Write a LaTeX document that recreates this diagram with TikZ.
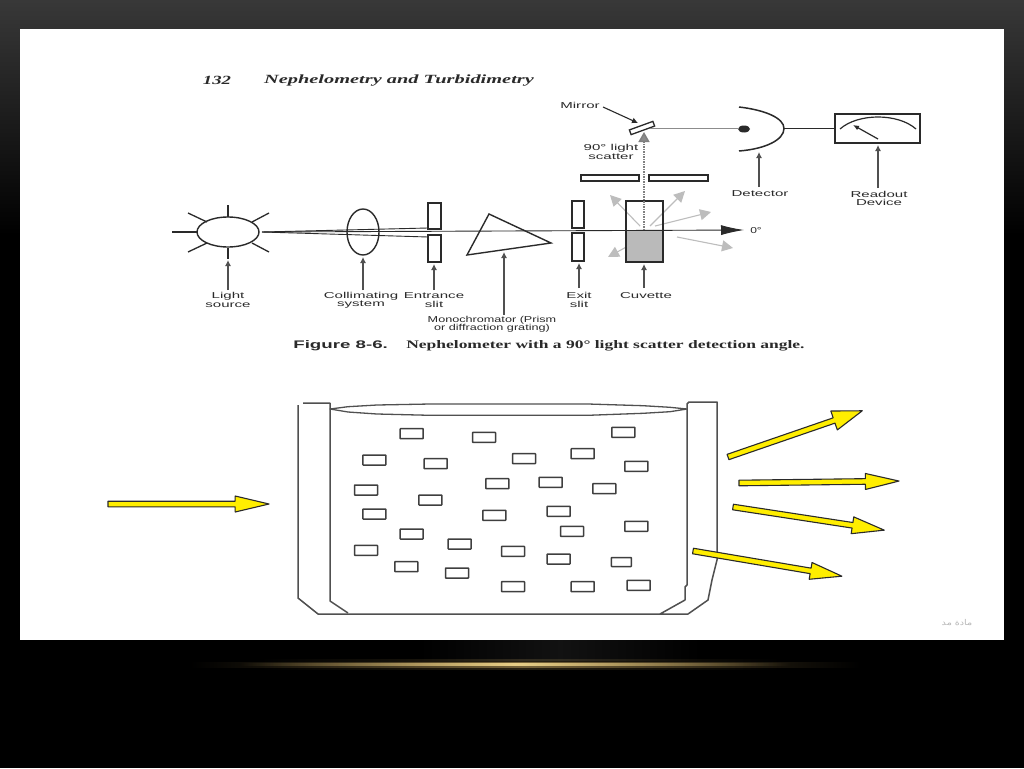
\documentclass[tikz,border=0pt]{standalone}
\usepackage{fontspec}
\setmainfont{Liberation Sans}
\newfontfamily\serifbook{Liberation Serif}
\newfontfamily\arabicfont[Script=Arabic]{DejaVu Sans}
\TeXXeTstate=1
\usetikzlibrary{arrows.meta,calc}
\definecolor{ink}{HTML}{2A2A2A}
\definecolor{soft}{HTML}{505050}
\definecolor{scat}{HTML}{BDBDBD}
\definecolor{yel}{HTML}{FFEE00}
\definecolor{gold}{HTML}{D2AE62}
\tikzset{
  part/.style={draw=ink,line width=1.4pt,fill=white},
  thin part/.style={draw=ink,line width=1.3pt},
  beam/.style={draw=ink,line width=0.9pt},
  pointer/.style={draw=soft,line width=1.1pt,-{Latex[length=6pt,width=6pt]}},
  lbl/.style={font=\fontsize{8.6}{8.4}\selectfont,text=ink,align=center,inner sep=0pt,xscale=1.75,transform shape},
  scatarrow/.style={draw=scat,line width=1.1pt,-{Triangle[length=11pt,width=11pt]}},
  vessel/.style={draw=soft,line width=1.5pt,line join=round},
  particle/.style={draw=ink!90,line width=1.5pt,fill=white,rounded corners=0.5pt},
  yarrow/.style={draw=ink,line width=1.1pt,fill=yel,line join=round},
  glow/.style={left color=black,right color=black,blend mode=screen}
}
\newcommand{\yellowarrow}[5]{% x y angle length halfwidth
  \path[yarrow,shift={(#1,#2)},rotate=#3]
    (0,-2.8) -- ({#4-#4*0.21},-2.8) -- ({#4-#4*0.21},-#5) -- (#4,0) -- ({#4-#4*0.21},#5) -- ({#4-#4*0.21},2.8) -- (0,2.8) -- cycle;
}
\begin{document}
\begin{tikzpicture}[x=1pt,y=-1pt]
\useasboundingbox (0,0) rectangle (1024,768);
% slide background
\fill[black] (0,0) rectangle (1024,768);
\shade[top color=black!78,bottom color=black] (0,0) rectangle (1024,235);
\fill[white] (20,29) rectangle (1004,640);
% glow
\shade[glow,middle color=black!93!white] (420,640) rectangle (700,660);
\shade[glow,middle color=gold!18!black] (260,659) rectangle (780,669);
\shade[glow,middle color=gold!45!black] (190,662) rectangle (860,667);
\shade[glow,middle color=gold] (240,663.5) rectangle (790,665.5);
% page header
\node[font=\serifbook\bfseries\itshape\fontsize{12.5}{12}\selectfont,text=ink,inner sep=0pt,xscale=1.5,transform shape] (pageno) at (217,80) {132};
\node[font=\serifbook\bfseries\itshape\fontsize{12.5}{12}\selectfont,text=ink,inner sep=0pt,xscale=1.63,transform shape] (runhead) at (399,80.5) {Nephelometry and Turbidimetry};
% beam
\coordinate (beamstart) at (262,232);
\coordinate (beamend) at (744,230);
\draw[beam] (beamstart) -- (428,228);
\draw[beam] (beamstart) -- (428,237);
% light source
\draw[part] (228,232) ellipse [x radius=31,y radius=15];
\draw[thin part] (172,232) -- (197,232);
\draw[thin part] (228,205) -- (228,217);
\draw[thin part] (228,248) -- (228,259);
\draw[thin part] (188,213) -- (207,222);
\draw[thin part] (269,213) -- (252,222);
\draw[thin part] (188,252) -- (207,243);
\draw[thin part] (269,252) -- (252,243);
% lens
\draw[draw=ink,line width=1.4pt] (363,232) ellipse [x radius=16,y radius=23];
% prism
\draw[draw=ink,line width=1.4pt] (489,214) -- (551,243) -- (467,255) -- cycle;
% entrance slit
\draw[part] (428,203) rectangle (441,229);
\draw[part] (428,235) rectangle (441,262);
% exit slit
\draw[part] (572,201) rectangle (584,228);
\draw[part] (572,233) rectangle (584,261);
% scatter slit
\draw[part] (581,175) rectangle (639,181);
\draw[part] (649,175) rectangle (708,181);
% cuvette
\fill[black!27] (626,230) rectangle (663,262);
\draw[scatarrow] (640,226) -- (610,195);
\draw[scatarrow] (650,226) -- (685,191);
\draw[scatarrow] (655,226) -- (711,212);
\draw[scatarrow] (677,237) -- (733,248);
\draw[scatarrow] (630,245) -- (608,257);
\draw[draw=ink,line width=1.4pt] (626,201) rectangle (663,262);
% main beam on top
\draw[beam,-{Latex[length=23pt,width=10pt]}] (beamstart) -- (beamend);
\node[lbl,xscale=0.8] (zero) at (756,230.5) {0°};
% vertical scatter
\draw[draw=black!50,line width=1.5pt,densely dotted,-{Triangle[length=10pt,width=11pt,fill=black!45]}] (644,230) -- (644,132);
% mirror
\node[draw=ink,line width=1.3pt,fill=white,minimum width=25pt,minimum height=5pt,inner sep=0pt,rotate=20,shape=rectangle] (mirror) at (642,128) {};
\node[lbl] (mirrorlbl) at (580,105.5) {Mirror};
\draw[draw=ink,line width=1.1pt,-{Latex[length=6pt,width=6pt]}] (603,107) -- (638,123);
\node[lbl,text=ink] (scatlbl) at (611,152) {90° light\\scatter};
% detector
\fill[ink] (744,129) ellipse [x radius=6,y radius=3.5];
\draw[draw=black!45,line width=0.9pt] (650,128.5) -- (739,128.5);
\draw[draw=ink,line width=1.5pt] (739,107) .. controls (765,110) and (784,118) .. (784,128.5) .. controls (784,140) and (765,149) .. (739,151);
\node[part,rectangle,minimum width=85pt,minimum height=29pt,inner sep=0pt] (readout) at (877.5,128.5) {};
\draw[draw=ink,line width=1.3pt] (784,128.5) -- (readout.west);
\draw[draw=ink,line width=1.2pt] (840,129) .. controls (858,113) and (898,113) .. (916,129);
\draw[draw=ink,line width=1.2pt,-{Latex[length=6pt,width=5pt]}] (878,139) -- (853,125);
% labels with pointers
\node[lbl] (lsrc) at (228,300) {Light\\source};
\draw[pointer] (228,290) -- (228,260);
\node[lbl] (coll) at (361,300) {Collimating\\system};
\draw[pointer] (363,290) -- (363,257);
\node[lbl] (entr) at (434,300) {Entrance\\slit};
\draw[pointer] (434,290) -- (434,264);
\node[lbl,xscale=0.84] (mono) at (492,324) {Monochromator (Prism\\or diffraction grating)};
\draw[pointer] (504,315) -- (504,252);
\node[lbl] (exit) at (579,300) {Exit\\slit};
\draw[pointer] (579,288) -- (579,263);
\node[lbl] (cuv) at (646,296) {Cuvette};
\draw[pointer] (644,288) -- (644,264);
\node[lbl] (det) at (760,194) {Detector};
\draw[pointer] (759,187) -- (759,152);
\node[lbl] (read) at (879,198.5) {Readout\\Device};
\draw[pointer] (878,188) -- (878,145);
% caption
\node[font=\bfseries\fontsize{11}{11}\selectfont,text=ink,inner sep=0pt,xscale=1.7,transform shape,anchor=west] (figlbl) at (293,346) {Figure 8-6.};
\node[font=\serifbook\bfseries\fontsize{11.5}{11}\selectfont,text=ink,inner sep=0pt,xscale=1.52,transform shape,anchor=west] (figcap) at (406,346) {Nephelometer with a 90° light scatter detection angle.};
% vessel
\draw[vessel] (298,405) -- (298,598) -- (318,614) -- (688,614) -- (708,600) -- (712,580) -- (717,560) -- (717,402) -- (689,402) -- (687,404) -- (687,585) -- (685,587) -- (685,600) -- (660,614);
\draw[vessel] (303,403) -- (330,403) -- (330,601) -- (348,613);
\draw[vessel,line width=1.3pt] (330,409) -- (348,406.7) -- (377,405) -- (430,404) -- (588,404) -- (643,405.7) -- (670,407.3) -- (687,409) -- (670,411.7) -- (643,413.3) -- (588,415.3) -- (430,415.3) -- (377,414) -- (348,412) -- cycle;
% particles
\foreach \x/\y in {395/131,612/142,1030/127,283/210,467/221,732/206,908/191,1069/229,258/300,652/281,812/277,973/296,451/330,283/372,643/376,836/364,395/432,876/424,1069/409,539/462,258/481,699/484,836/507,379/530,531/549,699/590,908/590,1076/586}
  \draw[particle] ({280+\x/3-11.5},{390+\y/3-5}) rectangle ++(23,10);
\draw[particle] ({1024/3+280-10},{516/3+390-4.5}) rectangle ++(20,9);
% yellow arrows
\yellowarrow{108}{504}{0}{161}{8}
\yellowarrow{728}{457}{19}{142}{10}
\yellowarrow{739}{483}{0.7}{160}{8}
\yellowarrow{733}{507}{-8.7}{153}{8.5}
\yellowarrow{693}{551}{-9.6}{151}{8.5}
% watermark
\node[font=\arabicfont\fontsize{8}{8}\selectfont,text=black!28,inner sep=0pt,xscale=1.2,transform shape] (wm) at (957,622.5) {\beginR مادة مد\endR};
\end{tikzpicture}
\end{document}
